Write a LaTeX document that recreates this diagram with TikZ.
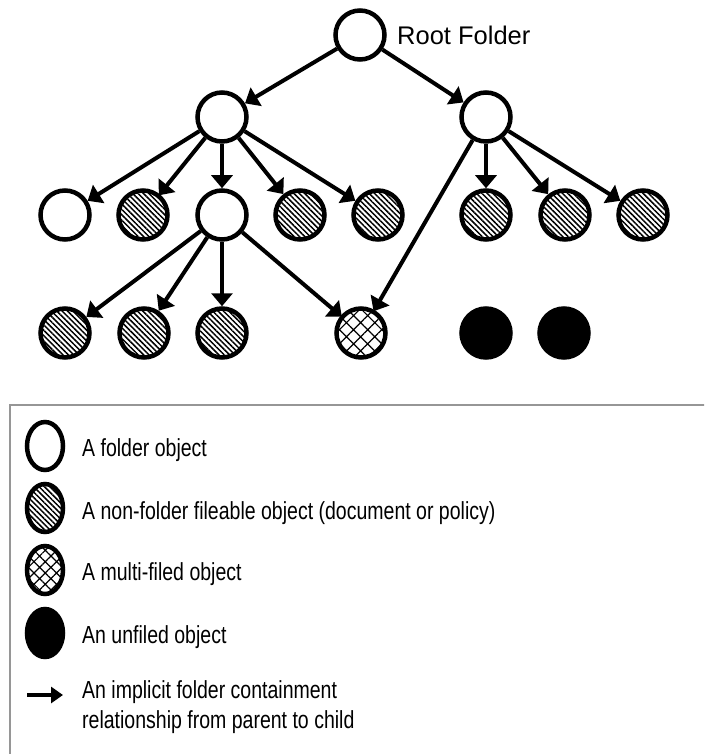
\documentclass[tikz,border=0pt]{standalone}
\usepackage{fontspec}
\setmainfont{Liberation Sans}
\newfontfamily\legendfont[FakeStretch=0.79]{Liberation Sans}
\usetikzlibrary{arrows.meta,patterns.meta,shapes.geometric}
\begin{document}
\begin{tikzpicture}[x=1pt,y=-1pt,
  obj/.style={circle,draw,line width=4.5pt,minimum size=49pt,inner sep=0pt},
  folder/.style={obj},
  docobj/.style={obj,pattern={Lines[angle=-45,distance=3.8pt,line width=1.5pt]}},
  multiobj/.style={obj,pattern={Hatch[angle=45,distance=10pt,line width=1.2pt]}},
  unfiled/.style={obj,fill=black},
  lgsym/.style={ellipse,draw,line width=4.5pt,minimum width=36pt,minimum height=48pt,inner sep=0pt},
  arr/.style={line width=4pt,-{Triangle[length=13pt,width=21pt]}},
  lgtext/.style={anchor=base west,inner sep=0pt,font=\legendfont\fontsize{24.7}{30}\selectfont},
]
\useasboundingbox (0,0) rectangle (704,754);
\clip (0,0) rectangle (704,754);

% tree
\node[folder] (root) at (360,35) {};
\node[anchor=base west,inner sep=0pt,font=\fontsize{25.5}{30}\selectfont] (rootlabel) at (397,45) {Root Folder};

\node[folder] (fa) at (222,117) {};
\node[folder] (fb) at (486,117) {};

\node[folder]  (a1) at (65,215) {};
\node[docobj]  (a2) at (143,215) {};
\node[folder]  (a3) at (222,215) {};
\node[docobj]  (a4) at (300,215) {};
\node[docobj]  (a5) at (378,215) {};
\node[docobj]  (b1) at (486,215) {};
\node[docobj]  (b2) at (565,215) {};
\node[docobj]  (b3) at (643,215) {};

\node[docobj]   (c1) at (65,333) {};
\node[docobj]   (c2) at (144,333) {};
\node[docobj]   (c3) at (222,333) {};
\node[multiobj] (m)  at (361,333) {};
\node[unfiled]  (u1) at (486,333) {};
\node[unfiled]  (u2) at (564,333) {};

\draw[arr] (root) -- (fa);
\draw[arr] (root) -- (fb);
\foreach \t in {a1,a2,a3,a4,a5} \draw[arr] (fa) -- (\t);
\foreach \t in {b1,b2,b3,m} \draw[arr] (fb) -- (\t);
\foreach \t in {c1,c2,c3,m} \draw[arr] (a3) -- (\t);

% legend
\draw[draw={rgb,255:red,150;green,150;blue,150},line width=1.5pt] (10,405) rectangle (730,780);

\node[lgsym] (l1) at (45,446) {};
\node[lgsym,pattern={Lines[angle=-45,distance=3.8pt,line width=1.5pt]}] (l2) at (45,508) {};
\node[lgsym,pattern={Hatch[angle=45,distance=8pt,line width=1.2pt]}] (l3) at (45,570) {};
\node[lgsym,fill=black] (l4) at (45,633) {};
\coordinate (l5s) at (27,695);
\coordinate (l5e) at (63,695);
\draw[line width=4pt,-{Triangle[length=12pt,width=16pt]}] (l5s) -- (l5e);

\node[lgtext] (t1) at (82,456) {A folder object};
\node[lgtext] (t2) at (82,519) {A non-folder fileable object (document or policy)};
\node[lgtext] (t3) at (82,580) {A multi-filed object};
\node[lgtext] (t4) at (82,643) {An unfiled object};
\node[lgtext] (t5a) at (82,698) {An implicit folder containment};
\node[lgtext] (t5b) at (82,728) {relationship from parent to child};
\end{tikzpicture}
\end{document}
